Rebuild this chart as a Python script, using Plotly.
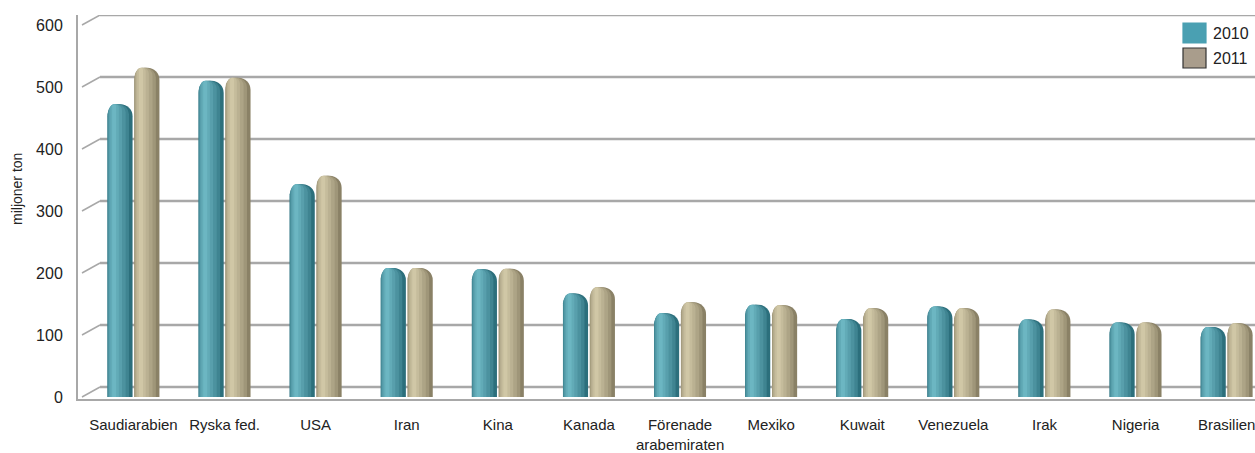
import plotly.graph_objects as go

# Oil production by country, million tonnes
categories = ["Saudiarabien", "Ryska fed.", "USA", "Iran", "Kina", "Kanada",
              "Förenade arabemiraten", "Mexiko", "Kuwait", "Venezuela", "Irak",
              "Nigeria", "Brasilien"]
tick_labels = ["Saudiarabien", "Ryska fed.", "USA", "Iran", "Kina", "Kanada",
               "Förenade<br>arabemiraten", "Mexiko", "Kuwait", "Venezuela", "Irak",
               "Nigeria", "Brasilien"]
values_2010 = [472, 510, 343, 208, 206, 167, 135, 149, 126, 146, 125, 120, 113]
values_2011 = [531, 515, 357, 208, 207, 177, 153, 148, 143, 143, 141, 120, 119]
y_ticks = [0, 100, 200, 300, 400, 500, 600]

FONT = "Liberation Sans, Arial, sans-serif"
BAR_W = 0.275
DEPTH = 16.13          # back wall lies this many axis units above the front plane


def mix(c1, c2, t):
    a = [int(c1[i:i + 2], 16) for i in (1, 3, 5)]
    b = [int(c2[i:i + 2], 16) for i in (1, 3, 5)]
    return "#" + "".join(f"{round(x + (y - x) * t):02x}" for x, y in zip(a, b))


# (edge, centre highlight) tones used to shade each cylinder
styles = {
    "2010": ("#2c6f7c", "#6cb6c2"),
    "2011": ("#8a8166", "#d0c7a6"),
}
offsets = {"2010": -0.285, "2011": 0.01}
series = {"2010": values_2010, "2011": values_2011}

# concentric shading bands: (fraction of bar width, colour blend, centre shift)
bands = [(1.0, 0.0, 0.0), (0.86, 0.3, -0.02), (0.70, 0.5, -0.035),
         (0.52, 0.68, -0.05), (0.34, 0.84, -0.06), (0.16, 1.0, -0.065)]

fig = go.Figure()
for name, vals in series.items():
    edge, light = styles[name]
    off = offsets[name]
    centre = off + BAR_W / 2
    for frac, t, shift in bands:
        w = BAR_W * frac
        o = centre + shift - w / 2
        fig.add_trace(go.Bar(
            x=categories, y=vals, name=name, showlegend=False,
            width=[w] * len(categories), offset=[o] * len(categories),
            marker=dict(color=mix(edge, light, t), cornerradius="50%",
                        line=dict(width=0)),
            hoverinfo="skip",
        ))

# back-wall grid lines and the diagonal floor/wall joins
grid_col = "#a8a8a8"
x_back = (100 - 78) / 1177
x_front = (82 - 78) / 1177
shapes = []
for v in y_ticks:
    shapes.append(dict(type="line", xref="paper", yref="y", layer="below",
                       x0=x_back, x1=1, y0=v + DEPTH, y1=v + DEPTH,
                       line=dict(color=grid_col, width=2.5)))
    shapes.append(dict(type="line", xref="paper", yref="y", layer="below",
                       x0=x_front, x1=x_back, y0=v, y1=v + DEPTH,
                       line=dict(color=grid_col, width=1.5)))

# legend swatches
legend_items = [("2010", "#4aa0b2", "#4aa0b2", 0), ("2011", "#a99d8c", "#333333", 1)]
annotations = []
for label, fill, border, k in legend_items:
    y0 = 1 - (8 + 25 * k) / 384
    y1 = y0 - 20 / 384
    shapes.append(dict(type="rect", xref="paper", yref="paper",
                       x0=(1183 - 78) / 1177, x1=(1206 - 78) / 1177,
                       y0=y1, y1=y0, fillcolor=fill,
                       line=dict(color=border, width=1.2)))
    annotations.append(dict(text=label, xref="paper", yref="paper",
                            x=(1211 - 78) / 1177, y=(y0 + y1) / 2,
                            xanchor="left", yanchor="middle", showarrow=False,
                            font=dict(family=FONT, size=16, color="#222222")))

annotations.append(dict(text="miljoner ton", textangle=-90, xref="paper", yref="paper",
                        x=-(78 - 17) / 1177, y=1 - (189 - 15) / 384,
                        xanchor="center", yanchor="middle", showarrow=False,
                        font=dict(family=FONT, size=14, color="#222222")))

fig.update_layout(
    width=1255, height=453,
    margin=dict(l=78, r=0, t=15, b=54),
    paper_bgcolor="white", plot_bgcolor="white",
    barmode="overlay",
    showlegend=False,
    shapes=shapes, annotations=annotations,
    xaxis=dict(range=[-0.609, 12.311], tickvals=categories, ticktext=tick_labels,
               automargin=False,
               showgrid=False, zeroline=False, showline=True,
               linecolor="#a8a8a8", linewidth=2, ticks="",
               ticklabelstandoff=11,
               tickfont=dict(family=FONT, size=15, color="#222222")),
    yaxis=dict(range=[-3.2, 616.1], tickvals=y_ticks, showgrid=False,
               automargin=False,
               zeroline=False, showline=True, linecolor="#a8a8a8", linewidth=2,
               ticks="", ticklabelstandoff=10,
               tickfont=dict(family=FONT, size=16, color="#222222")),
)

fig.write_html("out.html")
